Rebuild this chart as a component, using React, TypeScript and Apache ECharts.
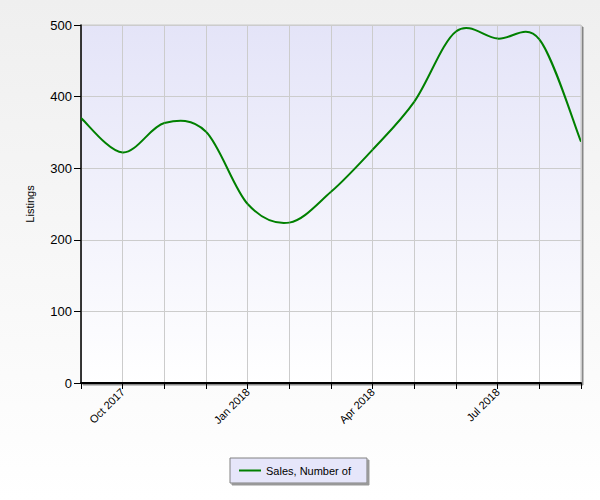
import React, { useEffect, useRef } from "react";
import * as echarts from "echarts";

const months = [
  "Sep 2017", "Oct 2017", "Nov 2017", "Dec 2017", "Jan 2018", "Feb 2018", "Mar 2018",
  "Apr 2018", "May 2018", "Jun 2018", "Jul 2018", "Aug 2018", "Sep 2018",
];
const salesNumberOf = [370, 322, 363, 351, 250, 224, 267, 326, 393, 491, 481, 480, 337];
const seriesName = "Sales, Number of";
const yAxisName = "Listings";

const TENSION = 1 / 6;

export default function App() {
  const ref = useRef<HTMLDivElement>(null);
  useEffect(() => {
    if (!ref.current) return;
    const chart = echarts.init(ref.current, null, { renderer: "svg" });
    const n = salesNumberOf.length;
    chart.setOption({
      animation: false,
      backgroundColor: new echarts.graphic.LinearGradient(0, 0, 0, 1, [
        { offset: 0, color: "#efefef" },
        { offset: 1, color: "#ffffff" },
      ]),
      textStyle: { fontFamily: "Liberation Sans, Arial, sans-serif" },
      grid: {
        left: 81,
        top: 25,
        right: 19,
        bottom: 117,
        show: true,
        backgroundColor: new echarts.graphic.LinearGradient(0, 0, 0, 1, [
          { offset: 0, color: "#e4e4f8" },
          { offset: 1, color: "#ffffff" },
        ]),
        borderColor: "#c8c8c8",
        borderWidth: 1,
        shadowColor: "rgba(0,0,0,0.45)",
        shadowOffsetX: 2,
        shadowOffsetY: 2,
        shadowBlur: 0,
      },
      legend: {
        data: [{ name: seriesName, icon: "rect", itemStyle: { color: "#008000" } }],
        left: 230,
        top: 458,
        itemWidth: 22,
        itemHeight: 2,
        itemGap: 5,
        padding: [7, 16, 7, 9],
        backgroundColor: "#e6e6fa",
        borderColor: "#808080",
        borderWidth: 1,
        shadowColor: "rgba(0,0,0,0.4)",
        shadowOffsetX: 2,
        shadowOffsetY: 2,
        shadowBlur: 1,
        textStyle: { color: "#000", fontSize: 11 },
      },
      xAxis: {
        type: "category",
        data: months,
        boundaryGap: false,
        axisLine: { lineStyle: { color: "#000", width: 2 } },
        axisTick: { show: true, interval: 0, length: 6, lineStyle: { color: "#000" } },
        splitLine: { show: true, interval: 0, lineStyle: { color: "#cccccc", width: 1 } },
        axisLabel: {
          interval: (i: number) => i % 3 === 1,
          rotate: 45,
          fontSize: 11,
          color: "#000",
          margin: 7,
        },
      },
      yAxis: {
        type: "value",
        min: 0,
        max: 500,
        interval: 100,
        name: yAxisName,
        nameLocation: "middle",
        nameGap: 46,
        nameTextStyle: { color: "#000", fontSize: 11 },
        axisLine: { show: true, lineStyle: { color: "#000", width: 1.5 } },
        axisTick: { show: true, length: 7, lineStyle: { color: "#000" } },
        splitLine: { show: true, lineStyle: { color: "#cccccc", width: 1 } },
        axisLabel: { fontSize: 13, color: "#000", margin: 9 },
      },
      series: [
        {
          name: seriesName,
          type: "custom",
          coordinateSystem: "cartesian2d",
          itemStyle: { color: "#008000" },
          encode: { x: 0, y: 1 },
          data: salesNumberOf.map((v, i) => [i, v]),
          clip: true,
          renderItem: (params: any, api: any) => {
            const i = params.dataIndex;
            if (i >= n - 1) return null;
            const pt = (k: number) => {
              const kk = Math.max(0, Math.min(n - 1, k));
              return api.coord([kk, salesNumberOf[kk]]);
            };
            const p0 = pt(i - 1);
            const p1 = pt(i);
            const p2 = pt(i + 1);
            const p3 = pt(i + 2);
            return {
              type: "bezierCurve",
              shape: {
                x1: p1[0],
                y1: p1[1],
                cpx1: p1[0] + (p2[0] - p0[0]) * TENSION,
                cpy1: p1[1] + (p2[1] - p0[1]) * TENSION,
                cpx2: p2[0] - (p3[0] - p1[0]) * TENSION,
                cpy2: p2[1] - (p3[1] - p1[1]) * TENSION,
                x2: p2[0],
                y2: p2[1],
              },
              style: { stroke: "#008000", lineWidth: 2, fill: "none" },
            };
          },
        },
      ],
    });
    return () => chart.dispose();
  }, []);
  return (
    <div
      ref={ref}
      style={{ position: "fixed", left: 0, top: 0, width: 600, height: 500 }}
    />
  );
}
